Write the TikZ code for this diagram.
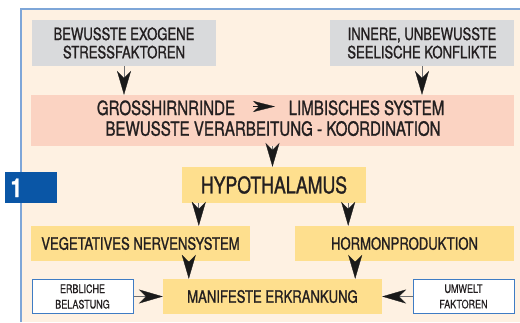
\documentclass[tikz,border=0pt]{standalone}
\usepackage{fontspec}
\setmainfont{TeX Gyre Heros}[FakeStretch=0.77, FakeBold=1.1]
\newfontfamily\lightcond{TeX Gyre Heros}[FakeStretch=0.77, FakeBold=0.4]
\usetikzlibrary{arrows.meta,calc}

\definecolor{cream}{HTML}{FEF1E2}
\definecolor{frameblue}{HTML}{7EA6D8}
\definecolor{greyfill}{HTML}{D9DADC}
\definecolor{pinkfill}{HTML}{FBD3C2}
\definecolor{yellowfill}{HTML}{FEDF8E}
\definecolor{badgeblue}{HTML}{0A56A6}
\definecolor{boxblue}{HTML}{3F7CC4}
\definecolor{stemgrey}{HTML}{6D6E70}
\definecolor{headblack}{HTML}{1A1A1A}
\definecolor{ink}{HTML}{231F20}

\begin{document}
\begin{tikzpicture}[x=1pt,y=-1pt,
  box/.style={inner sep=0pt, anchor=center, align=center, text=ink},
  greybox/.style={box, fill=greyfill, minimum width=184pt, minimum height=46pt,
    font=\fontsize{17}{18.3}\selectfont},
  yellowbox/.style={box, fill=yellowfill, minimum width=219pt, minimum height=35pt,
    font=\fontsize{17}{18}\selectfont},
  whitebox/.style={box, fill=white, draw=boxblue, line width=1pt,
    minimum width=101pt, minimum height=34pt, font=\lightcond\fontsize{11.7}{15.5}\selectfont},
  pinktext/.style={inner sep=0pt, anchor=base, text=ink, font=\fontsize{19.6}{21}\selectfont},
  flow/.style={draw=stemgrey, line width=1pt,
    -{Stealth[length=24pt, width=14pt, inset=7pt, color=headblack, line width=0.3pt]}},
]
% canvas and panel
\fill[white] (0,0) rectangle (520,322);
\useasboundingbox (0,0) rectangle (520,322);
\fill[cream] (21,9) rectangle (520,322);
\draw[frameblue, line width=2pt] (21,322) -- (21,9) -- (520,9);

% figure number
\node[fill=badgeblue, minimum width=52pt, minimum height=31pt, inner sep=0pt,
      anchor=north west] (badge) at (5,172) {};
\node[anchor=base west, inner sep=0pt, text=white,
      font=\bfseries\fontsize{26}{26}\selectfont] (num) at (10.5,197) {1};

% stress sources
\node[greybox] (exo) at (124,43) {BEWUSSTE EXOGENE\\STRESSFAKTOREN};
\node[greybox] (inner) at (422,43) {INNERE, UNBEWUSSTE\\SEELISCHE KONFLIKTE};

% cortex / limbic system
\node[fill=pinkfill, minimum width=483pt, minimum height=51pt, inner sep=0pt]
  (cortex) at (272.5,120.5) {};
\node[pinktext] (gross) at (166,115) {GROSSHIRNRINDE};
\node[pinktext] (limb) at (366.5,115) {LIMBISCHES SYSTEM};
\node[pinktext] (verarb) at (273,135.7) {BEWUSSTE VERARBEITUNG - KOORDINATION};
\coordinate (inA) at (253,106.5);
\coordinate (inB) at (275,106.5);
\draw[-{Stealth[length=22pt, width=11pt, inset=6pt, color=headblack, line width=0.3pt]},
      draw=headblack, line width=0.5pt] (inA) -- (inB);

% hypothalamus and its outputs
\node[box, fill=yellowfill, minimum width=184pt, minimum height=36pt,
      font=\fontsize{23}{24}\selectfont] (hypo) at (274,185) {HYPOTHALAMUS};
\node[yellowbox] (veg) at (140.5,243.5) {VEGETATIVES NERVENSYSTEM};
\node[yellowbox] (horm) at (404.5,243.5) {HORMONPRODUKTION};
\node[yellowbox] (manif) at (272.5,296.5) {MANIFESTE ERKRANKUNG};

% further factors
\node[whitebox] (erb) at (82.5,296.5) {ERBLICHE\\BELASTUNG};
\node[whitebox] (umw) at (463.5,296.5) {UMWELT\\FAKTOREN};

% connectors
\draw[flow] (exo.south) -- (exo.south |- cortex.north);
\draw[flow] (inner.south) -- (inner.south |- cortex.north);
\draw[flow] (cortex.south) -- (cortex.south |- hypo.north);
\coordinate (hvL) at ($(hypo.south west)+(17,0)$);
\coordinate (hvR) at ($(hypo.south east)+(-18,0)$);
\draw[flow] (hvL) -- (hvL |- veg.north);
\draw[flow] (hvR) -- (hvR |- horm.north);
\coordinate (mL) at ($(manif.north west)+(26,0)$);
\coordinate (mR) at ($(manif.north east)+(-27,0)$);
\draw[flow] (mL |- veg.south) -- (mL);
\draw[flow] (mR |- horm.south) -- (mR);
\draw[flow] (erb.east) -- (manif.west);
\draw[flow] (umw.west) -- (manif.east);
\end{tikzpicture}
\end{document}
